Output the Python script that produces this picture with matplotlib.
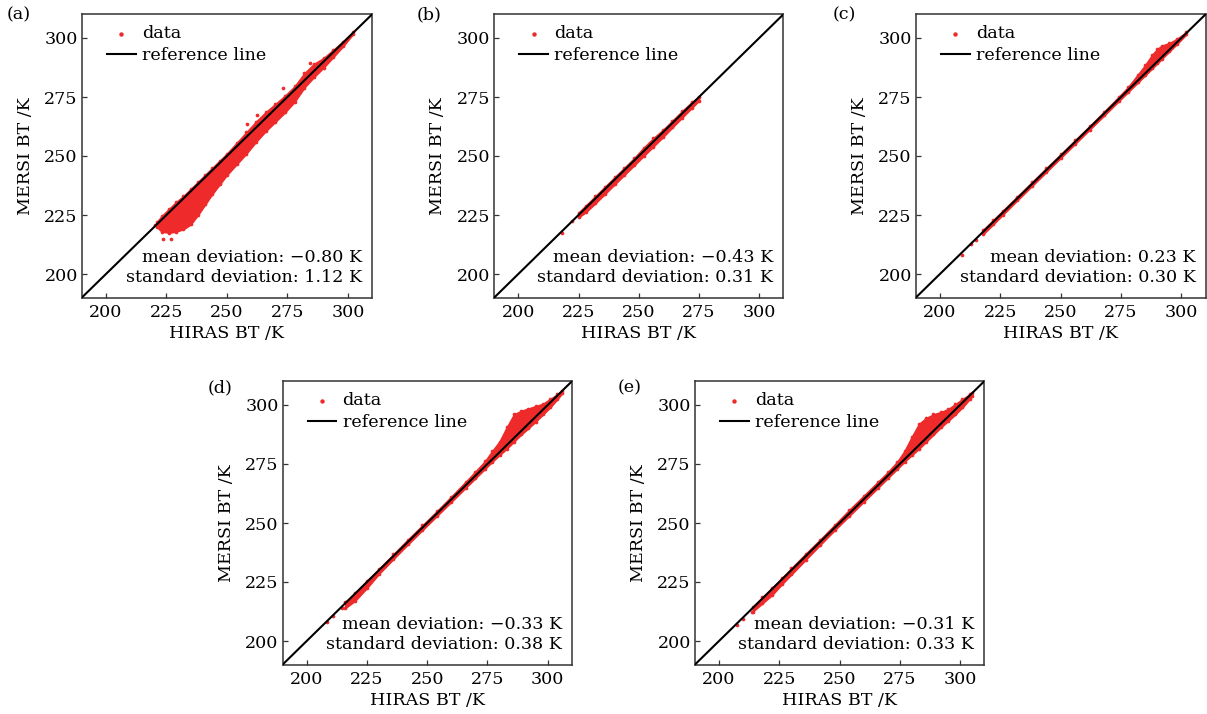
import matplotlib
matplotlib.use("Agg")
import matplotlib.pyplot as plt

# ---------------- data ----------------
panel_labels = ["(a)", "(b)", "(c)", "(d)", "(e)"]
mean_dev = ["−0.80", "−0.43", "0.23", "−0.33", "−0.31"]
std_dev = ["1.12", "0.31", "0.30", "0.38", "0.33"]
tick_values = [200, 225, 250, 275, 300]
axis_min, axis_max = 190, 310

# cloud envelopes: HIRAS BT, lower and upper MERSI BT of the dense scatter
hiras_a = [221, 223, 226, 229, 232, 235, 238, 241, 244, 247, 250, 254, 258, 262, 266, 270, 274, 278, 282, 286, 290, 294, 298, 302]
mersi_lo_a = [220, 218, 217.5, 218, 219, 221, 225, 229.5, 234, 238, 242, 246.5, 251, 256, 260.5, 264.5, 268.5, 273, 279, 283.5, 287.5, 292, 296.5, 301.5]
mersi_hi_a = [222, 224.5, 227.5, 230.5, 233, 236, 239, 242, 245, 248, 251, 255.5, 260, 264.5, 268.5, 272, 275.5, 279.5, 285, 289, 291.5, 295, 298.5, 302.5]
out_x_a = [223.7, 226.9, 220.3, 262.3, 273.4, 258.5, 284.5]
out_y_a = [214.7, 214.7, 220.8, 267.4, 278.7, 263.5, 289.5]

hiras_b = [225, 228, 232, 236, 240, 244, 248, 252, 256, 260, 264, 268, 272, 275]
mersi_lo_b = [224, 226.2, 230, 234, 238, 242, 246, 250, 254, 258, 262.2, 266.3, 270.4, 273.5]
mersi_hi_b = [226, 229, 233, 237, 241, 245, 249, 253.5, 257.5, 261, 265, 269, 272.8, 275]
out_x_b = [218, 222.5]
out_y_b = [217.2, 222.3]

hiras_c = [218, 222, 226, 232, 238, 244, 250, 256, 262, 268, 274, 278, 282, 285, 288, 290, 292, 295, 298, 302]
mersi_lo_c = [217.0, 221.0, 225.1, 231.2, 237.2, 243.2, 249.2, 255.2, 261.2, 267.2, 273.2, 277.2, 281.2, 284.2, 287.2, 289.2, 291.3, 294.3, 297.3, 301.5]
mersi_hi_c = [218.8, 222.8, 226.8, 232.8, 238.8, 244.8, 250.7, 256.7, 262.7, 268.8, 275.0, 279.3, 284.5, 288.5, 293.0, 295.3, 296.8, 297.8, 299.5, 302.5]
out_x_c = [209.2, 215, 213]
out_y_c = [208.0, 214.3, 212.6]

hiras_d = [216, 220, 225, 230, 236, 242, 248, 254, 260, 266, 270, 274, 277, 280, 283, 286, 289, 292, 295, 298, 301, 304, 306]
mersi_lo_d = [214, 217, 222.5, 228.5, 234.8, 241, 247, 253, 259, 265, 269, 273, 276, 278.8, 281.5, 284.5, 287.5, 290.2, 293, 296, 299, 302.5, 305]
mersi_hi_d = [216.5, 220.3, 225.5, 230.6, 236.8, 243, 249, 255, 261.2, 267.5, 271.8, 276.2, 280.5, 284.5, 290.5, 296, 297.5, 298.5, 299.5, 300.5, 302.5, 304.5, 306]
out_x_d = [208.3, 214.5, 211]
out_y_d = [208.2, 213.8, 210.6]

hiras_e = [214, 218, 222, 226, 230, 236, 242, 248, 254, 260, 266, 270, 274, 277, 280, 283, 286, 289, 292, 295, 298, 301, 304, 305]
mersi_lo_e = [212.5, 216, 219.5, 224, 228.2, 234.5, 240.8, 247, 253, 259, 265, 269, 273, 276, 278.8, 281.5, 284.5, 287.5, 290.5, 293.2, 296, 299, 302.5, 304]
mersi_hi_e = [214.5, 218.5, 222.5, 226.6, 230.8, 237, 243, 249.2, 255.5, 261.5, 267.5, 271.5, 276, 280.5, 286.5, 292, 294.5, 296, 297, 298.2, 300.3, 302.5, 304.5, 305]
out_x_e = [207.3, 213.6, 210]
out_y_e = [206.8, 212.4, 209.5]

ref_line = [axis_min, axis_max]

# ---------------- style ----------------
RED = "#ee2a2a"
FS = 12.6
plt.rcParams["font.family"] = ["DejaVu Serif"]
plt.rcParams["mathtext.fontset"] = "dejavuserif"

W, H = 1207, 714
fig = plt.figure(figsize=(W / 100, H / 100), dpi=100)

# axes boxes in pixels: left, right, top, bottom
boxes = [
    (81.8, 372.0, 14.4, 297.6),
    (494.2, 783.3, 14.4, 297.6),
    (915.8, 1205.5, 14.4, 297.6),
    (282.6, 571.8, 381.4, 664.6),
    (694.9, 984.1, 381.4, 664.6),
]
label_px = [(7, 15), (417, 15), (833, 15), (208, 388), (618, 388)]

panels = [
    (hiras_a, mersi_lo_a, mersi_hi_a, out_x_a, out_y_a),
    (hiras_b, mersi_lo_b, mersi_hi_b, out_x_b, out_y_b),
    (hiras_c, mersi_lo_c, mersi_hi_c, out_x_c, out_y_c),
    (hiras_d, mersi_lo_d, mersi_hi_d, out_x_d, out_y_d),
    (hiras_e, mersi_lo_e, mersi_hi_e, out_x_e, out_y_e),
]

for i, ((l, r, t, b), (hx, lo, hi, ox, oy)) in enumerate(zip(boxes, panels)):
    ax = fig.add_axes([l / W, 1 - b / H, (r - l) / W, (b - t) / H])
    wpx, hpx = r - l, b - t
    ax.fill_between(hx, lo, hi, color=RED, linewidth=1.2, zorder=2)
    ax.scatter(hx, lo, s=7, color=RED, linewidths=0, zorder=2)
    ax.scatter(hx, hi, s=7, color=RED, linewidths=0, zorder=2)
    pts = ax.scatter(ox, oy, s=7, color=RED, linewidths=0, zorder=2, label="data")
    ln, = ax.plot(ref_line, ref_line, color="black", lw=1.5, zorder=3, label="reference line")

    ax.set_xlim(axis_min, axis_max)
    ax.set_ylim(axis_min, axis_max)
    ax.set_xticks(tick_values)
    ax.set_yticks(tick_values)
    ax.tick_params(direction="in", length=3.5, width=0.9, labelsize=FS, color="#333333")
    ax.tick_params(axis="x", pad=4.3)
    ax.tick_params(axis="y", pad=2.9)
    for s in ax.spines.values():
        s.set_linewidth(1.1)
        s.set_color("#333333")

    ax.set_xlabel("HIRAS BT /K", fontsize=FS)
    ax.set_ylabel("MERSI BT /K", fontsize=FS)
    ax.xaxis.set_label_coords(0.5, -27.5 / hpx)
    ax.yaxis.set_label_coords(-48 / wpx, 0.5)

    ax.legend(handles=[pts, ln], loc="upper left", frameon=False, fontsize=FS,
              bbox_to_anchor=(25 / wpx, 1 - 11 / hpx), borderaxespad=0, borderpad=0,
              handlelength=1.65, handletextpad=0.35, labelspacing=0.25,
              markerscale=1.2, scatterpoints=1)

    ax.text(1 - 10 / wpx, 40 / hpx, f"mean deviation: {mean_dev[i]} K",
            transform=ax.transAxes, ha="right", va="center", fontsize=FS)
    ax.text(1 - 10 / wpx, 20 / hpx, f"standard deviation: {std_dev[i]} K",
            transform=ax.transAxes, ha="right", va="center", fontsize=FS)

    lx, ly = label_px[i]
    fig.text(lx / W, 1 - ly / H, panel_labels[i], ha="left", va="center", fontsize=FS)

fig.savefig("out.png", dpi=100)
